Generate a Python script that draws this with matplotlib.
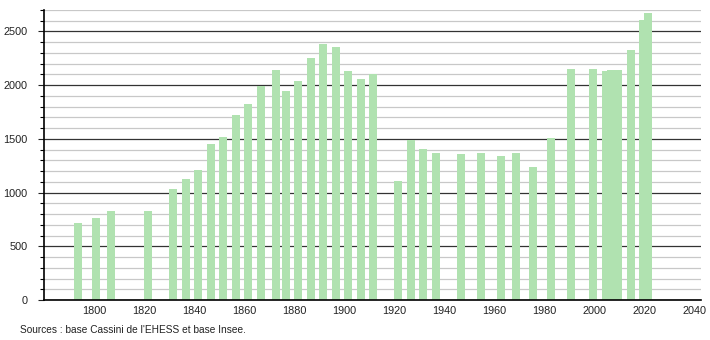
import matplotlib
matplotlib.use("Agg")
import matplotlib.pyplot as plt
from matplotlib.ticker import MultipleLocator

years = [1793, 1800, 1806, 1821, 1831, 1836, 1841, 1846, 1851, 1856, 1861, 1866,
         1872, 1876, 1881, 1886, 1891, 1896, 1901, 1906, 1911, 1921, 1926, 1931,
         1936, 1946, 1954, 1962, 1968, 1975, 1982, 1990, 1999, 2004, 2006, 2007,
         2008, 2009, 2014, 2019, 2021]
population = [720, 760, 830, 830, 1035, 1130, 1212, 1455, 1521, 1726, 1828, 1996,
              2145, 1950, 2043, 2257, 2379, 2360, 2136, 2061, 2108, 1110, 1492, 1408,
              1371, 1362, 1371, 1343, 1371, 1240, 1511, 2155, 2155, 2136, 2145, 2145,
              2145, 2145, 2323, 2603, 2668]
x_ticks = [1800, 1820, 1840, 1860, 1880, 1900, 1920, 1940, 1960, 1980, 2000, 2020, 2040]
y_ticks = [0, 500, 1000, 1500, 2000, 2500]
source = "Sources : base Cassini de l'EHESS et base Insee."

plt.rcParams['font.family'] = ['Liberation Sans', 'DejaVu Sans']

fig = plt.figure(figsize=(7.1, 3.4), dpi=100)
ax = fig.add_axes([44.3/710, 40/340, (701-44.3)/710, 290/340])

ax.set_xlim(1780, 2042.7)
ax.set_ylim(0, 2700)

# grid
ax.yaxis.set_minor_locator(MultipleLocator(100))
ax.set_yticks(y_ticks)
ax.grid(which='minor', axis='y', color='#c8c8c8', linewidth=0.9, zorder=0)
ax.grid(which='major', axis='y', color='#333333', linewidth=0.9, zorder=0)
ax.set_axisbelow(True)

ax.bar([y + 0.6 for y in years], population, width=3.2, color='#b0e2b0',
       linewidth=0, zorder=2)

ax.set_xticks(x_ticks)
ax.tick_params(axis='x', length=0, pad=4, labelsize=7.8, colors='#222222')
ax.tick_params(axis='y', which='major', length=4, width=0.8, pad=8, labelsize=7.8, colors='#222222')
ax.tick_params(axis='y', which='minor', length=3, width=0.8)

for s in ['top', 'right']:
    ax.spines[s].set_visible(False)
for s in ['left', 'bottom']:
    ax.spines[s].set_color('black')
    ax.spines[s].set_linewidth(1.2)

fig.text(20/710, 1 - 330/340, source, fontsize=7.3, color='#222222', va='center', ha='left')

fig.savefig('out.png', dpi=100)
